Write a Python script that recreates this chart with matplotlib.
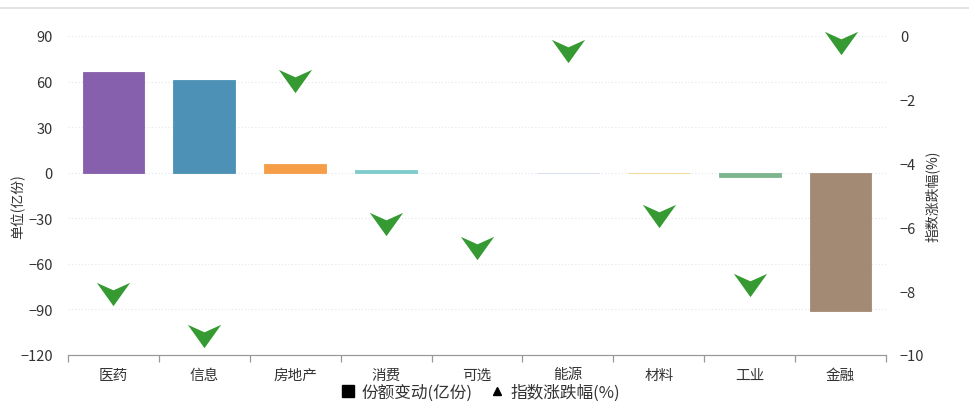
import matplotlib
matplotlib.use("Agg")
import matplotlib.pyplot as plt
from matplotlib.path import Path
from matplotlib.lines import Line2D
import numpy as np

plt.rcParams['font.family'] = ['Noto Sans CJK SC', 'DejaVu Sans']

sectors = ['医药', '信息', '房地产', '消费', '可选', '能源', '材料', '工业', '金融']
share_change = [66.4, 61.0, 5.9, 1.6, 0.0, -0.5, -0.5, -2.6, -90.8]
index_change = [-8.1, -9.4, -1.4, -5.9, -6.65, -0.47, -5.65, -7.8, -0.22]
bar_colors = ['#8660ac', '#4d92b6', '#f59e47', '#7ecbcb', '#b8e0d8',
              '#d3dbea', '#eed58a', '#7db58f', '#a38a74']

left_ticks = [90, 60, 30, 0, -30, -60, -90, -120]
right_ticks = [0, -2, -4, -6, -8, -10]

# notched down-arrow marker like the echarts symbol
arrow = Path([(-1, 0.7), (0, 0.25), (1, 0.7), (0, -0.7), (-1, 0.7)],
             [Path.MOVETO, Path.LINETO, Path.LINETO, Path.LINETO, Path.CLOSEPOLY])

fig = plt.figure(figsize=(9.69, 4.02), dpi=100)
ax = fig.add_axes([68 / 969, 46 / 402, 818 / 969, 319 / 402])
ax2 = ax.twinx()

x = np.arange(len(sectors))
# thin outline so the near-zero bars still show as a hairline; none for zero bars
edge_w = [0.6 if v != 0 else 0 for v in share_change]
ax.bar(x, share_change, width=0.68, color=bar_colors, edgecolor=bar_colors,
       linewidth=edge_w, zorder=2)
ax.set_ylim(-120, 90)
ax.set_yticks(left_ticks)
ax.set_xlim(-0.5, len(sectors) - 0.5)
for t in left_ticks[:-1]:
    ax.axhline(t, color='#e0e6f1', lw=0.8, ls=(0, (1, 2)), zorder=1)

ax.set_xticks(np.arange(-0.5, len(sectors)), minor=False)
ax.set_xticklabels([])
ax.set_xticks(x, minor=True)
ax.set_xticklabels(sectors, minor=True)
ax.tick_params(axis='x', which='major', length=5, color='#999999', width=0.9)
ax.tick_params(axis='x', which='minor', length=0, pad=9, labelsize=10.5, labelcolor='#333333')
ax.tick_params(axis='y', length=0, pad=11, labelsize=10.5, labelcolor='#333333')

ax2.plot(x, index_change, ls='none', marker=arrow, markersize=24,
         color='#369a32', markeredgewidth=0, zorder=3, clip_on=False)
ax2.set_ylim(-10, 0)
ax2.set_yticks(right_ticks)
ax2.tick_params(axis='y', length=0, pad=10, labelsize=10.5, labelcolor='#333333')

for a in (ax, ax2):
    for s in ('top', 'left', 'right'):
        a.spines[s].set_visible(False)
    a.spines['bottom'].set_color('#999999')

fig.text(18 / 969, 1 - 207 / 402, '单位(亿份)', rotation=90, ha='center', va='center',
         fontsize=10, color='#333333')
fig.text(932 / 969, 1 - 196 / 402, '指数涨跌幅(%)', rotation=90, ha='center', va='center',
         fontsize=10, color='#333333')

# thin border line at top of the panel
fig.add_artist(Line2D([0, 1], [1 - 9 / 402, 1 - 9 / 402], color='#dddddd', lw=1.2))

handles = [Line2D([], [], ls='none', marker='s', color='black', markersize=8),
           Line2D([], [], ls='none', marker='^', color='black', markersize=6)]
fig.legend(handles, ['份额变动(亿份)', '指数涨跌幅(%)'], loc='center',
           bbox_to_anchor=(480 / 969, 1 - 393 / 402), ncol=2, frameon=False,
           fontsize=12, handletextpad=0.3, columnspacing=1.0, handlelength=1.0,
           labelcolor='#333333')

fig.savefig('out.png', dpi=100)
